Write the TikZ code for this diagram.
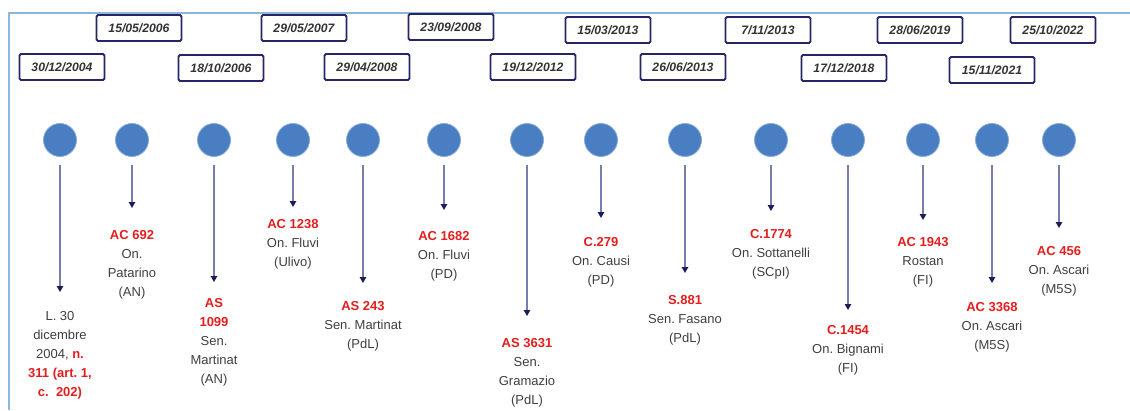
\documentclass[tikz,border=0pt]{standalone}
\usepackage{fontspec}
\setmainfont{Liberation Sans}
\usetikzlibrary{arrows.meta, positioning}
\definecolor{framecol}{RGB}{140,182,220}
\definecolor{boxcol}{RGB}{38,38,102}
\definecolor{dotcol}{RGB}{74,126,194}
\definecolor{linecol}{RGB}{118,126,172}
\definecolor{tipcol}{RGB}{24,30,92}
\definecolor{legred}{RGB}{228,30,30}
\definecolor{txtcol}{RGB}{62,62,62}
\newcommand{\hl}[1]{\textcolor{legred}{\bfseries #1}}
\frenchspacing

\tikzset{
  datebox/.style={draw=boxcol, line width=1.8pt, rounded corners=1.5pt, minimum width=85pt,
    minimum height=26pt, inner sep=0pt, text=black!80,
    font=\fontsize{12.2}{14}\selectfont\bfseries\itshape},
  dot/.style={circle, fill=dotcol, draw=dotcol!65!white, line width=0.8pt,
    minimum size=33pt, inner sep=0pt},
  act/.style={align=center, anchor=north, inner sep=0pt, text=txtcol,
    font=\fontsize{13}{19}\selectfont},
  link/.style={draw=linecol, line width=1.3pt,
    -{Triangle[length=6pt,width=6.5pt,color=tipcol]}}
}

\begin{document}
\begin{tikzpicture}[x=1pt,y=-1pt]
\useasboundingbox (0,0) rectangle (1130,410);
\draw[framecol, line width=1.6pt] (9,410) -- (9,13) -- (1130,13);

% dates, top row
\node[datebox] (d0605) at (139,28) {15/05/2006};
\node[datebox] (d0705) at (304,28) {29/05/2007};
\node[datebox] (d0809) at (451,27) {23/09/2008};
\node[datebox] (d1303) at (608,30) {15/03/2013};
\node[datebox] (d1311) at (768,30) {7/11/2013};
\node[datebox] (d1906) at (920,30) {28/06/2019};
\node[datebox] (d2210) at (1053,30) {25/10/2022};
% dates, bottom row
\node[datebox] (d0412) at (62,67) {30/12/2004};
\node[datebox] (d0610) at (221,68) {18/10/2006};
\node[datebox] (d0804) at (367,67) {29/04/2008};
\node[datebox] (d1212) at (533,67) {19/12/2012};
\node[datebox] (d1306) at (683,67) {26/06/2013};
\node[datebox] (d1812) at (844,68) {17/12/2018};
\node[datebox] (d2111) at (992,70) {15/11/2021};

% circles
\foreach \i/\x in {1/60,2/132,3/214,4/293,5/363,6/444,7/527,8/601,9/685,10/771,11/848,12/923,13/992,14/1059}
  \node[dot] (c\i) at (\x,140) {};

% acts
\node[act] (t1) at (60,311) {L. 30\\dicembre\\2004, \hl{n.}\\\hl{311 (art. 1,}\\\hl{c.\ \ 202)}};
\node[act] (t2) at (132,230) {\hl{AC 692}\\On.\\Patarino\\(AN)};
\node[act] (t3) at (214,298) {\hl{AS}\\\hl{1099}\\Sen.\\Martinat\\(AN)};
\node[act] (t4) at (293,219) {\hl{AC 1238}\\On. Fluvi\\(Ulivo)};
\node[act] (t5) at (363,301) {\hl{AS 243}\\Sen. Martinat\\(PdL)};
\node[act] (t6) at (444,231) {\hl{AC 1682}\\On. Fluvi\\(PD)};
\node[act] (t7) at (527,338) {\hl{AS 3631}\\Sen.\\Gramazio\\(PdL)};
\node[act] (t8) at (601,237) {\hl{C.279}\\On. Causi\\(PD)};
\node[act] (t9) at (685,295) {\hl{S.881}\\Sen. Fasano\\(PdL)};
\node[act] (t10) at (771,229) {\hl{C.1774}\\On. Sottanelli\\(SCpI)};
\node[act] (t11) at (848,325) {\hl{C.1454}\\On. Bignami\\(FI)};
\node[act] (t12) at (923,237) {\hl{AC 1943}\\Rostan\\(FI)};
\node[act] (t13) at (992,302) {\hl{AC 3368}\\On. Ascari\\(M5S)};
\node[act] (t14) at (1059,246) {\hl{AC 456}\\On. Ascari\\(M5S)};

% arrows
\foreach \i/\e in {1/292,2/208,3/282,4/207,5/283,6/210,7/316,8/218,9/273,10/211,11/310,12/220,13/283,14/228}{
  \path (c\i.center) ++(0,{\e-140}) coordinate (e\i);
  \draw[link] ([yshift=-8pt]c\i.south) -- (e\i);
}
\end{tikzpicture}
\end{document}
